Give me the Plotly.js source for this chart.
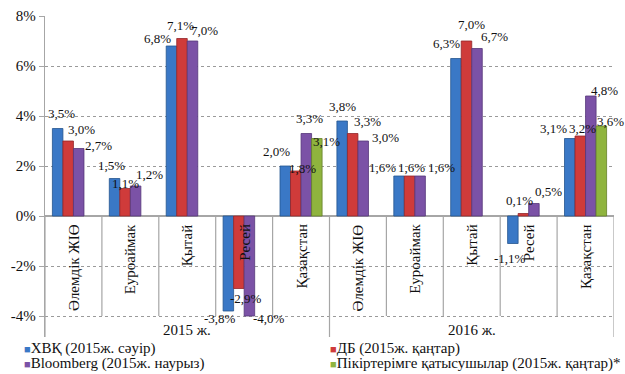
<!DOCTYPE html>
<html>
<head>
<meta charset="utf-8">
<script src="https://cdn.plot.ly/plotly-3.0.1.min.js"></script>
<style>
  html, body { margin: 0; padding: 0; background: #fff; }
  #chart { width: 625px; height: 374px; }
</style>
</head>
<body>
<div id="chart"></div>
<script>
// Economic growth forecasts, 2015 and 2016
const categories = ['Әлемдік ЖІӨ', 'Еуроаймак', 'Қытай', 'Ресей', 'Қазақстан',
                    'Әлемдік ЖІӨ', 'Еуроаймак', 'Қытай', 'Ресей', 'Қазақстан'];
const years = ['2015 ж.', '2016 ж.'];
const seriesNames = ['ХВҚ (2015ж. сәуір)', 'ДБ (2015ж. қаңтар)',
                     'Bloomberg (2015ж. наурыз)', 'Пікіртерімге қатысушылар (2015ж. қаңтар)*'];
const imf       = [3.5, 1.5, 6.8, -3.8, 2.0, 3.8, 1.6, 6.3, -1.1, 3.1];
const worldBank = [3.0, 1.1, 7.1, -2.9, 1.8, 3.3, 1.6, 7.0, 0.1, 3.2];
const bloomberg = [2.7, 1.2, 7.0, -4.0, 3.3, 3.0, 1.6, 6.7, 0.5, 4.8];
const survey    = [null, null, null, null, 3.1, null, null, null, null, 3.6];
const yTicks = [-4, -2, 0, 2, 4, 6, 8];

const series = [imf, worldBank, bloomberg, survey];
const colors = ['#3a78c6', '#cf3b3a', '#7b52a6', '#8fb43e'];
const edges  = ['#24558f', '#93262a', '#55377a', '#64802a'];

// label nudges in px (dx right, dy down) so overlapping labels stay readable
const nudges = [
  [[4,-15],[-3,-13],[-14,-8],[-8,7],[-9,-15],[0,-15],[-17,-9],[-9,-15],[-3,15],[-16,-10]],
  [[13,-12],[0,-5],[-1,-13],[7,10],[7,-3],[15,-12],[2,-9],[5,-17],[-4,-13],[2,-8]],
  [[20,-3],[14,-12],[12,-11],[20,2],[3,-15],[22,-4],[21,-9],[17,-12],[15,-12],[14,-6]],
  [[0,0],[0,0],[0,0],[0,0],[10,3],[0,0],[0,0],[0,0],[0,0],[9,-5]]
];

const FONT = 'Liberation Serif';
const xIdx = categories.map((_, i) => i);
const bargap = 0.26;
const barW = (1 - bargap) / series.length;

const traces = series.map((vals, k) => ({
  type: 'bar',
  name: seriesNames[k],
  x: xIdx,
  y: vals,
  marker: { color: colors[k], line: { color: edges[k], width: 0.8 } },
  hoverinfo: 'skip',
  showlegend: false
}));

const fmt = v => v.toFixed(1).replace('.', ',') + '%';
const annotations = [];

// value labels
series.forEach((vals, k) => {
  const off = (k - (series.length - 1) / 2) * barW;
  vals.forEach((v, i) => {
    if (v === null) return;
    const [dx, dy] = nudges[k][i];
    annotations.push({
      xref: 'x', yref: 'y', x: i + off, y: v,
      xshift: dx, yshift: -dy, showarrow: false,
      text: fmt(v), font: { family: FONT, size: 13, color: '#111' }
    });
  });
});

// category labels below the zero line
categories.forEach((c, i) => {
  annotations.push({
    xref: 'x', yref: 'y', x: i, y: 0, yshift: -6,
    xanchor: 'center', yanchor: 'top', textangle: -90, showarrow: false,
    text: c, font: { family: FONT, size: 15, color: '#111' }
  });
});

// year group labels
years.forEach((yr, g) => {
  annotations.push({
    xref: 'x', yref: 'y', x: g * 5 + 2, y: -4.56, showarrow: false,
    text: yr, font: { family: FONT, size: 15, color: '#111' }
  });
});

// legend, two columns
const legendPos = [[-0.0404, -0.037], [0.4974, -0.037], [-0.0404, -0.084], [0.4974, -0.084]];
seriesNames.forEach((n, k) => {
  annotations.push({
    xref: 'paper', yref: 'paper', x: legendPos[k][0], y: legendPos[k][1],
    xanchor: 'left', yanchor: 'middle', showarrow: false,
    text: '<span style="color:' + colors[k] + ';font-size:11px">■</span>' + n,
    font: { family: FONT, size: 15, color: '#111' }
  });
});

// category and year dividers along the category axis
const shapes = [];
for (let b = 0; b <= categories.length; b++) {
  const isGroup = b % 5 === 0;
  shapes.push({
    type: 'line', xref: 'x', yref: 'y',
    x0: b - 0.5, x1: b - 0.5, y0: 0, y1: isGroup ? -4.84 : -4,
    line: { color: '#a6a6a6', width: 1.2 }
  });
}

const layout = {
  width: 625, height: 374,
  margin: { l: 45, r: 11, t: 16, b: 37 },
  paper_bgcolor: '#fff', plot_bgcolor: '#fff',
  barmode: 'group', bargap: bargap, bargroupgap: 0,
  font: { family: FONT, color: '#111' },
  xaxis: {
    range: [-0.5, categories.length - 0.5],
    showticklabels: false, showgrid: false, zeroline: false, ticks: '', fixedrange: true
  },
  yaxis: {
    range: [-4.84, 8],
    tickvals: yTicks, ticktext: yTicks.map(t => t + '%'),
    tickfont: { family: FONT, size: 15, color: '#111' },
    showgrid: true, gridcolor: '#9a9a9a', griddash: 'dot', gridwidth: 1,
    zeroline: true, zerolinecolor: '#a6a6a6', zerolinewidth: 1.5,
    showline: true, linecolor: '#a6a6a6', linewidth: 1.2,
    ticks: 'outside', ticklen: 5, tickcolor: '#a6a6a6',
    fixedrange: true
  },
  shapes: shapes,
  annotations: annotations
};

Plotly.newPlot('chart', traces, layout, { displayModeBar: false, staticPlot: true });
</script>
</body>
</html>
